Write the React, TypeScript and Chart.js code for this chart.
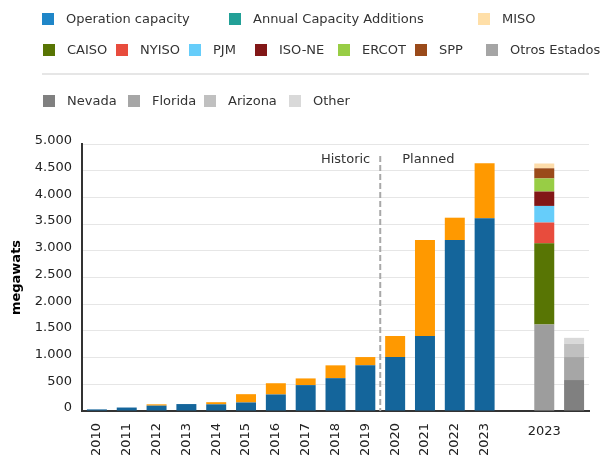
import React, { useEffect, useRef } from "react";
import { Chart, registerables } from "chart.js";

Chart.register(...registerables);

// ---------- data ----------
const years = ["2010", "2011", "2012", "2013", "2014", "2015", "2016", "2017", "2018", "2019", "2020", "2021", "2022", "2023"];
const operationCapacity = [30, 65, 100, 130, 125, 160, 310, 485, 615, 855, 1010, 1405, 3200, 3610];
const annualAdditions = [0, 0, 25, 0, 40, 155, 210, 125, 240, 155, 395, 1795, 420, 1030];

const isoNames = ["Otros Estados", "CAISO", "NYISO", "PJM", "ISO-NE", "ERCOT", "SPP", "MISO"];
const isoValues = [1620, 1520, 390, 310, 270, 245, 190, 90];
const isoColors = ["#9d9d9d", "#587504", "#e84c3d", "#66cdfa", "#821717", "#98cd45", "#9a4a1a", "#fddcaa"];

const stateNames = ["Nevada", "Florida", "Arizona", "Other"];
const stateValues = [580, 430, 250, 110];
const stateColors = ["#808080", "#a6a6a6", "#c0c0c0", "#d9d9d9"];

const breakdownLabel = "2023";
const phaseLabels = ["Historic", "Planned"];
const yMax = 5000;
const yStep = 500;
const yTitle = "megawats";

// category slots: years, a gap, the ISO bar, the states bar
const xLabels = [...years, "", breakdownLabel, breakdownLabel + " "];
const isoIndex = years.length + 1;
const stateIndex = years.length + 2;

const FONT = "'DejaVu Sans', Verdana, sans-serif";

// legend (drawn as HTML; Highcharts-like layout)
const legendRows = [
  { y: 19, items: [
    { name: "Operation capacity", color: "#1f86c8", box: 42, text: 66 },
    { name: "Annual Capacity Additions", color: "#22a097", box: 229, text: 253 },
    { name: "MISO", color: "#ffdfa8", box: 478, text: 502 },
  ] },
  { y: 50, items: [
    { name: "CAISO", color: "#587504", box: 43, text: 67 },
    { name: "NYISO", color: "#e84c3d", box: 116, text: 140 },
    { name: "PJM", color: "#66cdfa", box: 189, text: 213 },
    { name: "ISO-NE", color: "#821717", box: 255, text: 279 },
    { name: "ERCOT", color: "#98cd45", box: 338, text: 362 },
    { name: "SPP", color: "#9a4a1a", box: 415, text: 439 },
    { name: "Otros Estados", color: "#a5a5a5", box: 486, text: 510 },
  ] },
  { y: 101, items: [
    { name: "Nevada", color: "#808080", box: 43, text: 67 },
    { name: "Florida", color: "#a6a6a6", box: 128, text: 152 },
    { name: "Arizona", color: "#c0c0c0", box: 204, text: 228 },
    { name: "Other", color: "#d9d9d9", box: 289, text: 313 },
  ] },
];

const fmt = (v: number) => String(v).replace(/\B(?=(\d{3})+(?!\d))/g, ".");

const atIndex = (idx: number, value: number) => xLabels.map((_, i) => (i === idx ? value : null));
const padYears = (arr: number[]) => xLabels.map((_, i) => (i < arr.length ? arr[i] : null));

const phasePlugin = {
  id: "phase",
  afterDatasetsDraw(chart: any) {
    const { ctx, chartArea, scales } = chart;
    const x = scales.x;
    const lineX = (x.getPixelForValue(9) + x.getPixelForValue(10)) / 2;
    ctx.save();
    ctx.strokeStyle = "#a8a8a8";
    ctx.lineWidth = 2;
    ctx.setLineDash([6, 3]);
    ctx.beginPath();
    ctx.moveTo(lineX, chartArea.top + 12);
    ctx.lineTo(lineX, chartArea.bottom);
    ctx.stroke();
    ctx.setLineDash([]);
    ctx.fillStyle = "#333";
    ctx.font = "13px " + FONT;
    ctx.textBaseline = "middle";
    ctx.textAlign = "right";
    ctx.fillText(phaseLabels[0], lineX - 10, chartArea.top + 16);
    ctx.textAlign = "left";
    ctx.fillText(phaseLabels[1], lineX + 22, chartArea.top + 16);
    // horizontal category label under the 2023 breakdown bars
    ctx.fillStyle = "#222";
    ctx.textAlign = "center";
    ctx.fillText(breakdownLabel, x.getPixelForValue(isoIndex), chartArea.bottom + 21);
    ctx.restore();
  },
};

export default function App() {
  const canvasRef = useRef<HTMLCanvasElement | null>(null);

  useEffect(() => {
    if (!canvasRef.current) return;
    Chart.defaults.font.family = FONT;
    Chart.defaults.font.size = 13;
    Chart.defaults.color = "#333";

    const datasets: any[] = [
      { label: "Operation capacity", data: padYears(operationCapacity), backgroundColor: "#14659b" },
      { label: "Annual Capacity Additions", data: padYears(annualAdditions), backgroundColor: "#ff9900" },
      ...isoNames.map((n, k) => ({ label: n, data: atIndex(isoIndex, isoValues[k]), backgroundColor: isoColors[k] })),
      ...stateNames.map((n, k) => ({ label: n, data: atIndex(stateIndex, stateValues[k]), backgroundColor: stateColors[k] })),
    ];

    const chart = new Chart(canvasRef.current, {
      type: "bar",
      data: { labels: xLabels, datasets },
      plugins: [phasePlugin],
      options: {
        responsive: false,
        animation: false,
        devicePixelRatio: 1,
        layout: { padding: { top: 144, right: 26, left: 0, bottom: 0 } },
        datasets: { bar: { barPercentage: 0.67, categoryPercentage: 1, borderWidth: 0 } },
        plugins: { legend: { display: false }, tooltip: { enabled: false } },
        scales: {
          x: {
            type: "category",
            stacked: true,
            grid: { display: false },
            border: { display: true, color: "#333", width: 2 },
            ticks: {
              autoSkip: false,
              minRotation: 90,
              maxRotation: 90,
              padding: 4,
              color: "#222",
              font: { size: 13 },
              callback: (_v: any, i: number) => (i < years.length ? years[i] : ""),
            },
            afterFit: (s: any) => { s.height = 44; },
          },
          y: {
            stacked: true,
            min: 0,
            max: yMax,
            grid: { color: "#e6e6e6", drawTicks: false },
            border: { display: true, color: "#333", width: 2 },
            ticks: {
              stepSize: yStep,
              padding: 10,
              labelOffset: -3,
              color: "#222",
              font: { size: 13 },
              callback: (v: any) => fmt(Number(v)),
            },
            title: {
              display: true,
              text: yTitle,
              color: "#000",
              font: { size: 13, weight: "bold" },
              padding: { top: 9, bottom: 0 },
            },
            afterFit: (s: any) => { s.width = 82; },
          },
        },
      } as any,
    });
    return () => chart.destroy();
  }, []);

  return (
    <div style={{ position: "absolute", left: 0, top: 0, width: 615, height: 455, background: "#fff", fontFamily: FONT }}>
      <canvas ref={canvasRef} width={615} height={455} style={{ display: "block" }} />
      {legendRows.map((row, r) => (
        <React.Fragment key={r}>
          {row.items.map((it) => (
            <React.Fragment key={it.name}>
              <div style={{ position: "absolute", left: it.box, top: row.y - 6, width: 12, height: 12, background: it.color }} />
              <div style={{ position: "absolute", left: it.text, top: row.y - 8, height: 16, lineHeight: "16px", fontSize: 13, color: "#333", whiteSpace: "nowrap" }}>{it.name}</div>
            </React.Fragment>
          ))}
        </React.Fragment>
      ))}
      <div style={{ position: "absolute", left: 42, top: 73, width: 547, height: 2, background: "#e6e6e6" }} />
    </div>
  );
}
